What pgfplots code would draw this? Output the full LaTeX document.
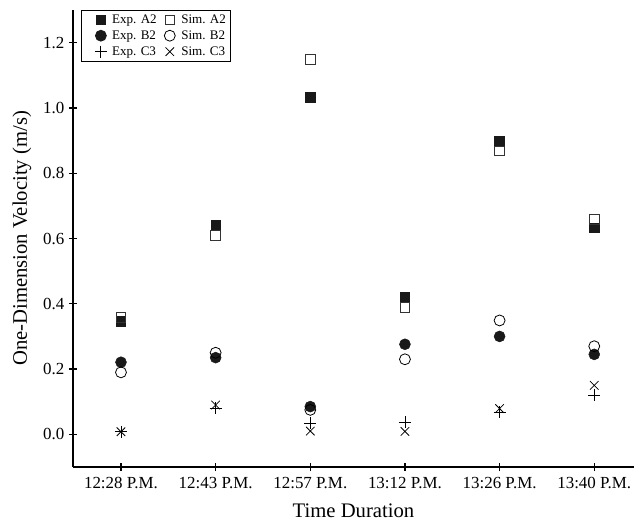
\documentclass[border=0pt]{standalone}
\usepackage{pgfplots}
\pgfplotsset{compat=1.18}
\usepackage{fontspec}
\setmainfont{Liberation Serif}
\pgfplotsset{
  leftimg/.style={legend image code/.code={\path (0pt,0pt) (19.4pt,0pt); \draw[##1] plot coordinates {(13.3pt,0pt)};}},
  rightimg/.style={legend image code/.code={\path (0pt,0pt) (10.8pt,0pt); \draw[##1] plot coordinates {(4.5pt,0pt)};}},
}
\begin{document}
\begin{tikzpicture}
\begin{axis}[
  scale only axis,
  width=420.75pt, height=342.75pt,
  xmin=-0.507, xmax=5.42,
  ymin=-0.1, ymax=1.3,
  axis x line*=bottom, axis y line*=left,
  axis line style={line width=1.2pt},
  xtick={0,1,2,3,4,5},
  xticklabels={12:28 P.M.,12:43 P.M.,12:57 P.M.,13:12 P.M.,13:26 P.M.,13:40 P.M.},
  ytick={0,0.2,0.4,0.6,0.8,1.0,1.2},
  yticklabel style={/pgf/number format/.cd,fixed,fixed zerofill,precision=1},
  /pgf/number format/assume math mode=true,
  tick align=center,
  major tick length=6pt,
  tick style={line width=0.9pt,black},
  ticklabel style={font=\fontsize{12.7}{14}\selectfont},
  xticklabel style={yshift=-1pt},
  xlabel={Time Duration},
  ylabel={One-Dimension Velocity (m/s)},
  label style={font=\fontsize{15.5}{17}\selectfont},
  xlabel style={at={(axis description cs:0.5,-0.0963)}, anchor=center},
  ylabel style={at={(axis description cs:-0.0909,0.5)}, anchor=center, rotate=0},
  legend columns=2,
  legend style={at={(axis description cs:0.0143,1)}, anchor=north west, font=\fontsize{9.8}{10.5}\selectfont,
    draw=black, line width=0.6pt, inner xsep=1pt, inner ysep=1pt, row sep=0pt,
    /tikz/every even column/.append style={column sep=3pt}},
  legend cell align=left,
  clip=false,
]
\addplot[leftimg, only marks, mark=square*, mark size=3.6pt, mark options={fill=black!90, draw=black!90, line width=0.5pt}]
  coordinates {(0,0.347) (1,0.642) (2,1.032) (3,0.419) (4,0.898) (5,0.633)};
\addlegendentry{Exp. A2}
\addplot[rightimg, only marks, mark=square, mark size=3.6pt, mark options={draw=black!80, line width=0.6pt}]
  coordinates {(0,0.358) (1,0.610) (2,1.149) (3,0.389) (4,0.868) (5,0.658)};
\addlegendentry{Sim. A2}
\addplot[leftimg, only marks, mark=*, mark size=4.1pt, mark options={fill=black!90, draw=black!90}]
  coordinates {(0,0.221) (1,0.235) (2,0.085) (3,0.276) (4,0.300) (5,0.245)};
\addlegendentry{Exp. B2}
\addplot[rightimg, only marks, mark=o, mark size=4.1pt, mark options={draw=black, line width=0.6pt}]
  coordinates {(0,0.190) (1,0.250) (2,0.075) (3,0.230) (4,0.349) (5,0.270)};
\addlegendentry{Sim. B2}
\addplot[leftimg, only marks, mark=+, mark size=4.5pt, mark options={draw=black, line width=0.6pt}]
  coordinates {(0,0.008) (1,0.080) (2,0.035) (3,0.038) (4,0.067) (5,0.120)};
\addlegendentry{Exp. C3}
\addplot[rightimg, only marks, mark=x, mark size=4.5pt, mark options={draw=black, line width=0.6pt}]
  coordinates {(0,0.008) (1,0.090) (2,0.010) (3,0.009) (4,0.079) (5,0.150)};
\addlegendentry{Sim. C3}
\end{axis}
\pgfresetboundingbox
\path[use as bounding box] (-54.75pt,-42.75pt) rectangle (423.75pt,350.25pt);
\end{tikzpicture}
\end{document}
